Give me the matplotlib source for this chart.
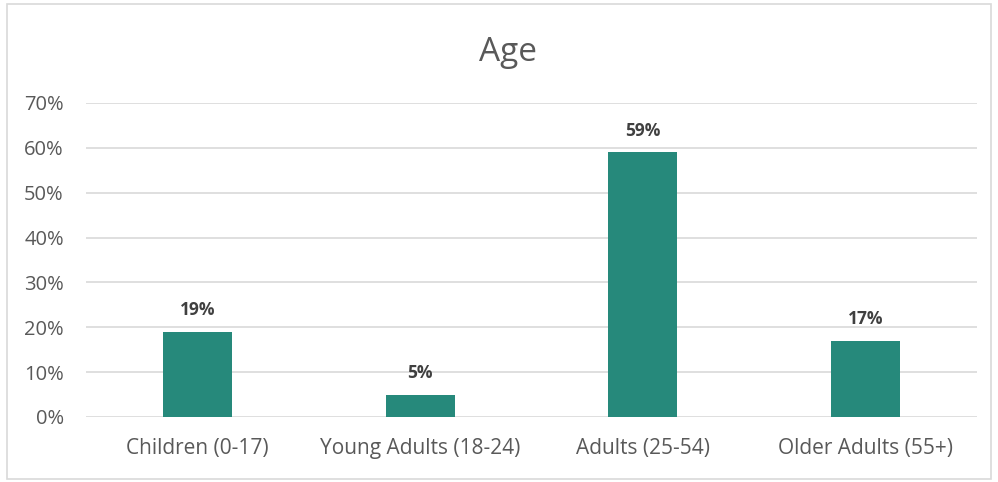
import matplotlib
matplotlib.use("Agg")
import matplotlib.pyplot as plt
from matplotlib.patches import Rectangle
from matplotlib.ticker import FuncFormatter

categories = ["Children (0-17)", "Young Adults (18-24)", "Adults (25-54)", "Older Adults (55+)"]
values = [19, 5, 59, 17]
yticks = [0, 10, 20, 30, 40, 50, 60, 70]
title = "Age"

plt.rcParams['font.family'] = ['Open Sans', 'DejaVu Sans']
text_color = "#595959"
bar_color = "#26897B"
grid_color = "#D9D9D9"

fig = plt.figure(figsize=(9.98, 4.82), dpi=100)
fig.patch.set_facecolor("white")
fig.patches.append(Rectangle((7/998, 1 - 479/482), 984/998, 475/482, transform=fig.transFigure,
                             fill=False, edgecolor=grid_color, linewidth=1.2))

ax = fig.add_axes([86/998, 1 - 417/482, 891/998, (417 - 103)/482])
x = range(len(categories))
bars = ax.bar(x, values, width=0.31, color=bar_color, zorder=3)
ax.set_xlim(-0.5, len(categories) - 0.5)
ax.set_ylim(0, 70)
ax.set_yticks(yticks)
ax.yaxis.set_major_formatter(FuncFormatter(lambda v, p: f"{int(v)}%"))
ax.set_xticks(list(x))
ax.set_xticklabels(categories)
ax.grid(axis='y', color=grid_color, linewidth=1.2, zorder=0)
for s in ax.spines.values():
    s.set_visible(False)
ax.tick_params(axis='both', length=0, colors=text_color, labelsize=14.5)
ax.tick_params(axis='x', pad=15, labelsize=15)
ax.tick_params(axis='y', pad=16)
for lab in ax.get_yticklabels():
    lab.set_horizontalalignment('right')

for xi, v in zip(x, values):
    ax.annotate(f"{v}%", (xi, v), xytext=(0, 9), textcoords="offset points",
                ha='center', va='bottom', fontsize=12.5, fontweight='bold', color="#404040")

fig.text(508/998, 1 - 52/482, title, ha='center', va='center', fontsize=24, color=text_color)

fig.savefig("out.png", dpi=100)
